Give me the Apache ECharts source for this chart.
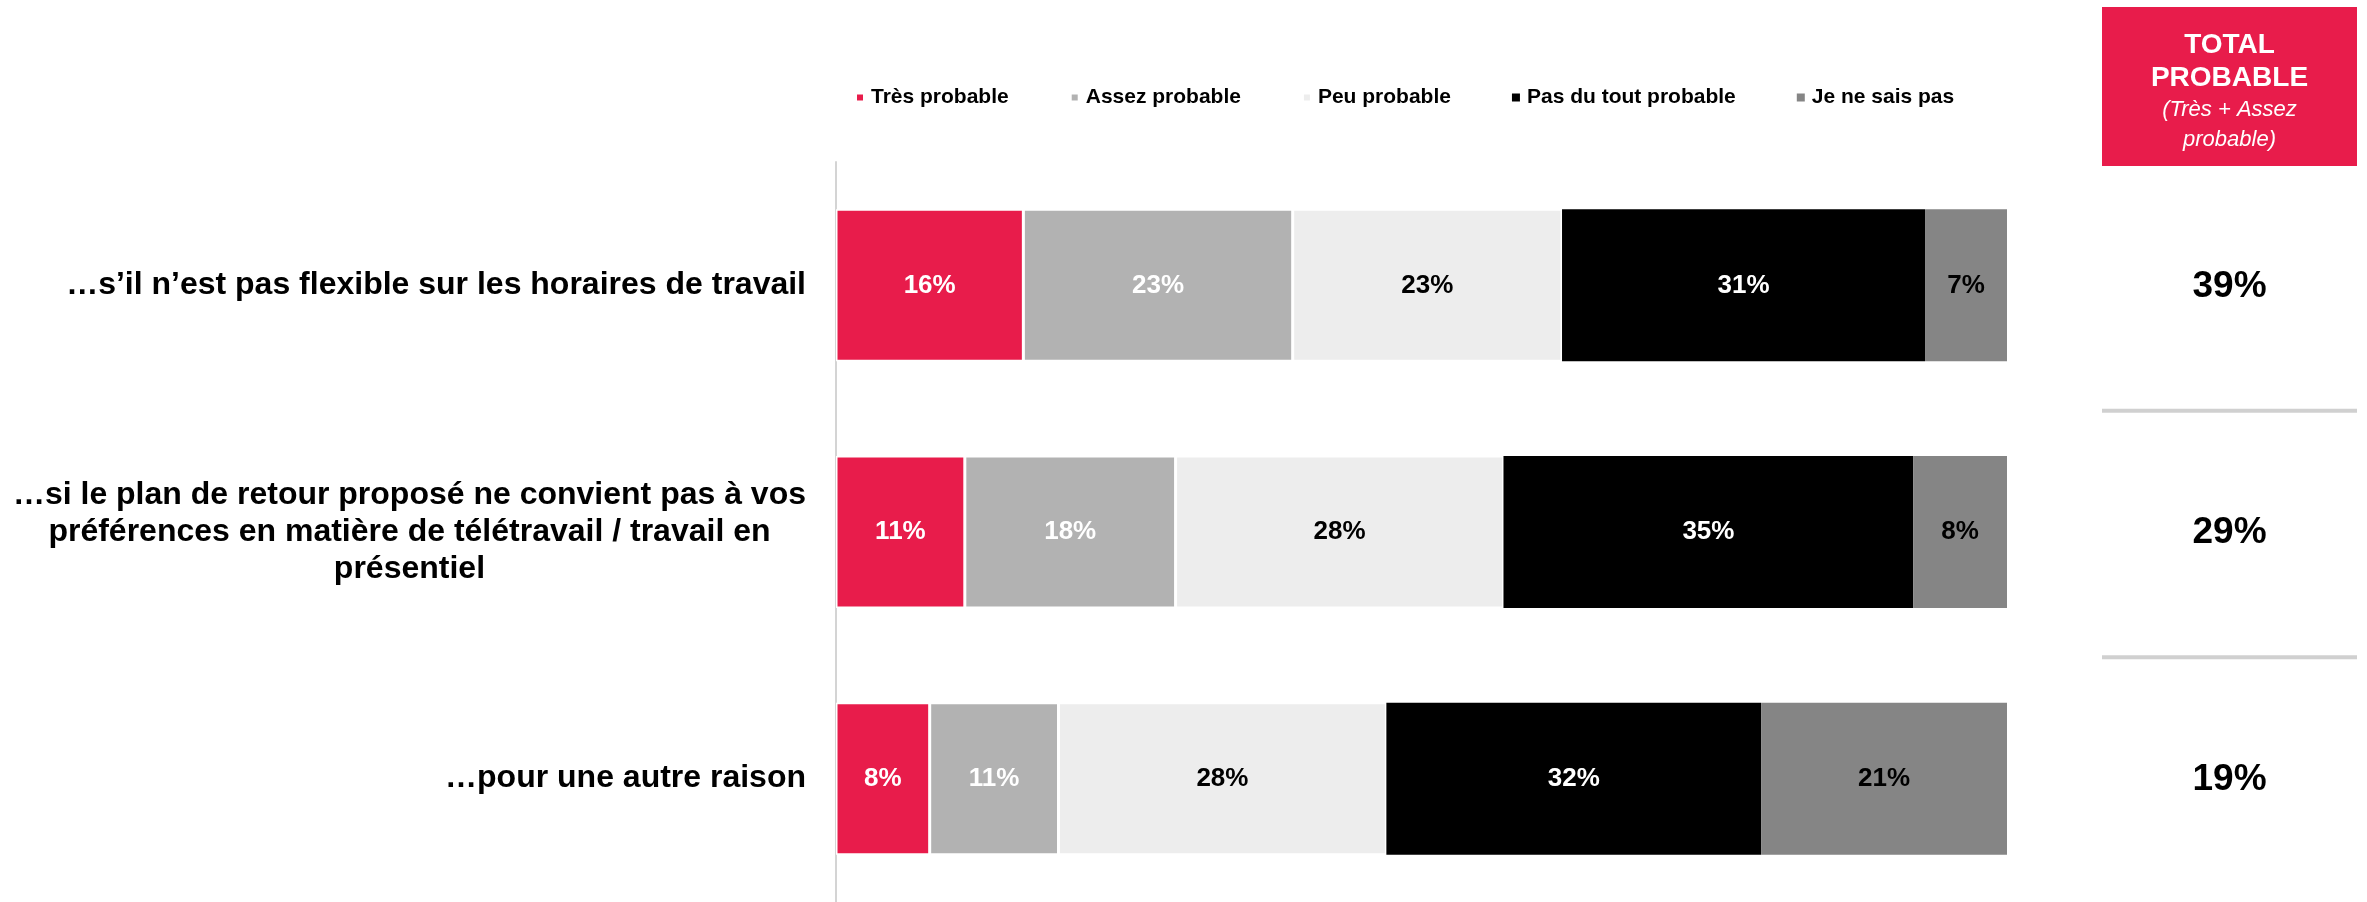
<!DOCTYPE html>
<html>
<head>
<meta charset="utf-8">
<script src="https://cdn.jsdelivr.net/npm/echarts@6/dist/echarts.min.js"></script>
<style>
html,body{margin:0;padding:0;background:#fff;}
#chart{width:2367px;height:902px;}
</style>
</head>
<body>
<div id="chart"></div>
<script>
// ---- data ----
const categories = [
  "…s’il n’est pas flexible sur les horaires de travail",
  "…si le plan de retour proposé ne convient pas à vos\npréférences en matière de télétravail / travail en\nprésentiel",
  "…pour une autre raison"
];
const seriesNames = ["Très probable", "Assez probable", "Peu probable", "Pas du tout probable", "Je ne sais pas"];
const tresProbable = [16, 11, 8];
const assezProbable = [23, 18, 11];
const peuProbable = [23, 28, 28];
const pasDuToutProbable = [31, 35, 32];
const jeNeSaisPas = [7, 8, 21];
const totalProbable = [39, 29, 19];
const totalHeaderBold = ["TOTAL", "PROBABLE"];
const totalHeaderItalic = ["(Très + Assez", "probable)"];

// ---- styles ----
const FONT = "'Liberation Sans', Arial, Helvetica, sans-serif";
const colors = ["#E81C4B", "#B2B2B2", "#EDEDED", "#000000", "#858585"];
const labelColors = ["#FFFFFF", "#FFFFFF", "#000000", "#FFFFFF", "#000000"];
const borderWidths = [1.5, 1.5, 1.5, 0, 0];
const values = [tresProbable, assezProbable, peuProbable, pasDuToutProbable, jeNeSaisPas];

const GRID_TOP = 162, GRID_H = 748;

const chart = echarts.init(document.getElementById('chart'));

const barSeries = seriesNames.map((name, i) => ({
  name: name,
  type: 'bar',
  stack: 'total',
  xAxisIndex: 0,
  yAxisIndex: 0,
  barWidth: 152,
  data: values[i],
  itemStyle: { color: colors[i], borderColor: '#FFFFFF', borderWidth: borderWidths[i] },
  label: {
    show: true,
    position: 'inside',
    formatter: p => p.value + '%',
    color: labelColors[i],
    fontFamily: FONT,
    fontWeight: 'bold',
    fontSize: 26
  },
  emphasis: { disabled: true }
}));

const totalsSeries = {
  type: 'custom',
  xAxisIndex: 1,
  yAxisIndex: 1,
  data: totalProbable.map((v, i) => [0.5, i, v]),
  encode: { x: 0, y: 1 },
  renderItem: function (params, api) {
    const idx = api.value(1);
    const pt = api.coord([0.5, idx]);
    const band = api.size([0, 1])[1];
    const cs = params.coordSys;
    const children = [{
      type: 'text',
      style: {
        text: api.value(2) + '%',
        x: pt[0],
        y: pt[1] + 1,
        align: 'center',
        verticalAlign: 'middle',
        fontFamily: FONT,
        fontWeight: 'bold',
        fontSize: 37,
        fill: '#000000'
      }
    }];
    if (idx < totalProbable.length - 1) {
      children.push({
        type: 'rect',
        shape: { x: cs.x, y: pt[1] + band / 2, width: cs.width, height: 4 },
        style: { fill: '#D0D0D0' }
      });
    }
    return { type: 'group', children: children };
  }
};

const option = {
  backgroundColor: '#FFFFFF',
  animation: false,
  legend: {
    data: seriesNames,
    left: 850,
    top: 82,
    icon: 'rect',
    itemWidth: 8,
    itemHeight: 8,
    itemGap: 61,
    selectedMode: false,
    textStyle: { fontFamily: FONT, fontWeight: 'bold', fontSize: 21, color: '#000000', padding: [0, 0, 0, 2] }
  },
  grid: [
    { left: 836, right: 360, top: GRID_TOP, height: GRID_H },
    { left: 2102, width: 255, top: GRID_TOP, height: GRID_H }
  ],
  xAxis: [
    { type: 'value', gridIndex: 0, min: 0, max: 100, show: false },
    { type: 'value', gridIndex: 1, min: 0, max: 1, show: false }
  ],
  yAxis: [
    {
      type: 'category',
      gridIndex: 0,
      inverse: true,
      data: categories,
      axisLine: { show: true, lineStyle: { color: '#D4D4D4', width: 2 } },
      axisTick: { show: false },
      axisLabel: {
        margin: 30,
        align: 'right',
        formatter: v => v.split('\n').map(l => '{c|' + l + '}').join('\n'),
        rich: {
          c: {
            align: 'center',
            fontFamily: FONT,
            fontWeight: 'bold',
            fontSize: 32,
            lineHeight: 37,
            color: '#000000'
          }
        }
      }
    },
    {
      type: 'category',
      gridIndex: 1,
      inverse: true,
      data: categories,
      show: false
    }
  ],
  graphic: [{
    type: 'group',
    left: 2102,
    top: 7,
    children: [
      { type: 'rect', shape: { x: 0, y: 0, width: 255, height: 159 }, style: { fill: '#E81C4B' } },
      {
        type: 'text',
        x: 127.5,
        y: 85,
        style: {
          text: totalHeaderBold.map(t => '{b|' + t + '}').join('\n') + '\n' + totalHeaderItalic.map(t => '{i|' + t + '}').join('\n'),
          align: 'center',
          verticalAlign: 'middle',
          fill: '#FFFFFF',
          rich: {
            b: { fontFamily: FONT, fontWeight: 'bold', fontSize: 28, lineHeight: 33, color: '#FFFFFF', align: 'center' },
            i: { fontFamily: FONT, fontStyle: 'italic', fontSize: 22, lineHeight: 30, color: '#FFFFFF', align: 'center' }
          }
        }
      }
    ]
  }],
  series: barSeries.concat([totalsSeries])
};

chart.setOption(option);
</script>
</body>
</html>
